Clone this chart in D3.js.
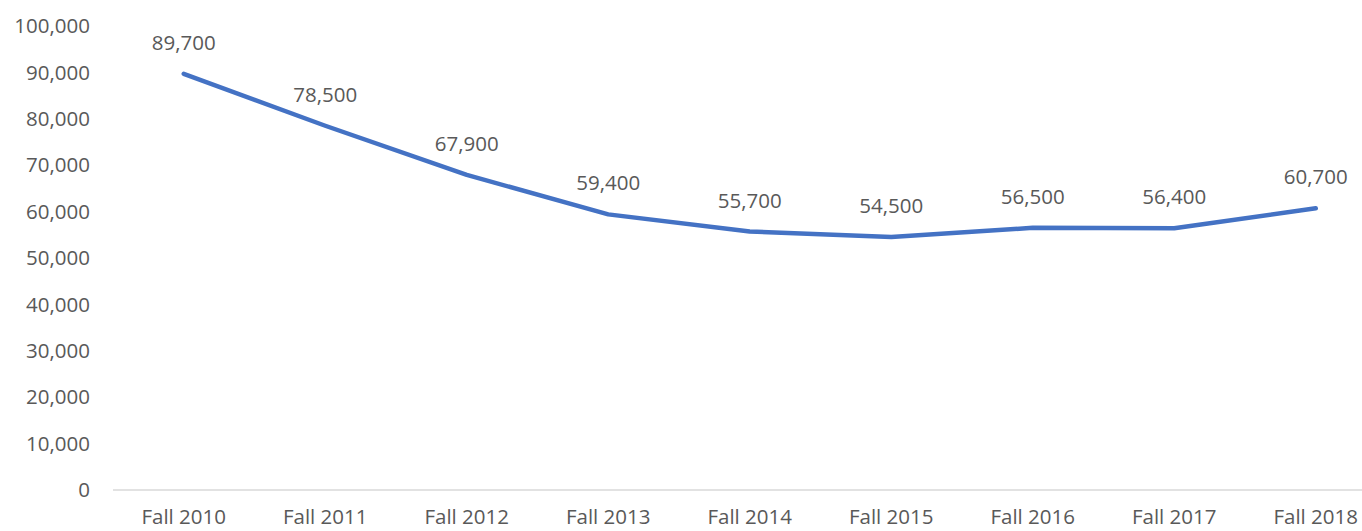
<!DOCTYPE html>
<html>
<head>
<meta charset="utf-8">
<script src="https://cdn.jsdelivr.net/npm/d3@7"></script>
<style>
  body { margin: 0; background: #fff; }
  text { font-family: "Open Sans", "Liberation Sans", sans-serif; fill: #595959; }
</style>
</head>
<body>
<div id="chart"></div>
<script>
const categories = ["Fall 2010", "Fall 2011", "Fall 2012", "Fall 2013", "Fall 2014",
    "Fall 2015", "Fall 2016", "Fall 2017", "Fall 2018"];
const values = [89700, 78500, 67900, 59400, 55700, 54500, 56500, 56400, 60700];
const yTicks = [0, 10000, 20000, 30000, 40000, 50000, 60000, 70000, 80000, 90000, 100000];

const width = 1362;
const height = 531;
const fontSize = 20.5;

const svg = d3.select("#chart")
    .append("svg")
    .attr("width", width)
    .attr("height", height);

const x = d3.scaleBand()
    .domain(categories)
    .range([113, 1386.5]);

const y = d3.scaleLinear()
    .domain([0, 100000])
    .range([490, 26]);

const fmt = d3.format(",");

// y axis labels
svg.append("g")
    .selectAll("text")
    .data(yTicks)
    .join("text")
    .attr("x", 90)
    .attr("y", d => y(d))
    .attr("dy", "0.35em")
    .attr("text-anchor", "end")
    .attr("font-size", fontSize)
    .text(d => fmt(d));

// baseline
svg.append("line")
    .attr("x1", 113)
    .attr("x2", width)
    .attr("y1", y(0))
    .attr("y2", y(0))
    .attr("stroke", "#d9d9d9")
    .attr("stroke-width", 1.3);

// x labels
svg.append("g")
    .selectAll("text")
    .data(categories)
    .join("text")
    .attr("x", d => x(d) + x.bandwidth() / 2)
    .attr("y", 524)
    .attr("text-anchor", "middle")
    .attr("font-size", fontSize)
    .text(d => d);

const line = d3.line()
    .x((d, i) => x(categories[i]) + x.bandwidth() / 2)
    .y(d => y(d));

svg.append("path")
    .datum(values)
    .attr("fill", "none")
    .attr("stroke", "#4472c4")
    .attr("stroke-width", 4.5)
    .attr("stroke-linecap", "round")
    .attr("stroke-linejoin", "round")
    .attr("d", line);

// data labels
svg.append("g")
    .selectAll("text")
    .data(values)
    .join("text")
    .attr("x", (d, i) => x(categories[i]) + x.bandwidth() / 2)
    .attr("y", d => y(d) - 24)
    .attr("text-anchor", "middle")
    .attr("font-size", fontSize)
    .text(d => fmt(d));
</script>
</body>
</html>
